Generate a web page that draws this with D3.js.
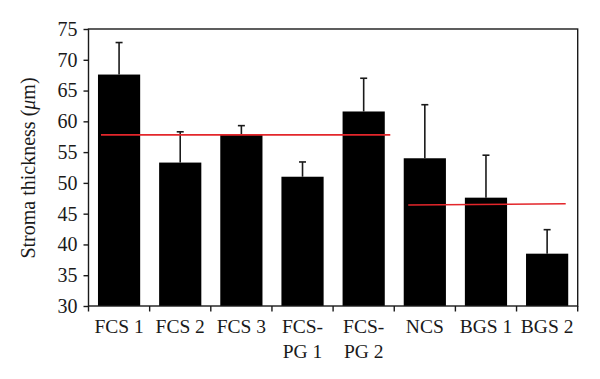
<!DOCTYPE html>
<html>
<head>
<meta charset="utf-8">
<script src="https://cdn.jsdelivr.net/npm/d3@7"></script>
<style>
  html, body { margin: 0; padding: 0; background: #fff; }
  svg { display: block; }
  text { font-family: "Liberation Serif", "Times New Roman", serif; fill: #1a1a1a; }
</style>
</head>
<body>
<script>
// ---- data ----
const categories = ["FCS 1", "FCS 2", "FCS 3", "FCS-\nPG 1", "FCS-\nPG 2", "NCS", "BGS 1", "BGS 2"];
const means = [67.6, 53.3, 57.8, 51.0, 61.6, 54.0, 47.6, 38.5];
const errorTops = [72.8, 58.3, 59.3, 53.4, 67.0, 62.7, 54.5, 42.4];
const yTicks = [30, 35, 40, 45, 50, 55, 60, 65, 70, 75];
const refFrom = ["FCS 1", "NCS"];
const refTo = ["FCS-\nPG 2", "BGS 2"];
const refStart = [57.8, 46.4];
const refEnd = [57.8, 46.6];

// ---- layout ----
const W = 600, H = 379;
const mLeft = 88.5, mRight = 577.7, mTop = 29, mBottom = 306;

const svg = d3.select("body").append("svg").attr("width", W).attr("height", H);

const x = d3.scaleBand().domain(categories).range([mLeft, mRight]).paddingInner(0.31).paddingOuter(0.155);
const y = d3.scaleLinear().domain([30, 75]).range([mBottom, mTop]);
const bw = x.bandwidth();
const step = x.step();

// bars
svg.append("g").selectAll("rect").data(categories).join("rect")
  .attr("x", d => x(d))
  .attr("y", (d, i) => y(means[i]))
  .attr("width", bw)
  .attr("height", (d, i) => y(30) - y(means[i]))
  .attr("fill", "#000");

// error bars
const eg = svg.append("g").attr("stroke", "#1a1a1a").attr("stroke-width", 1.6);
categories.forEach((c, i) => {
  const cx = x(c) + bw / 2;
  eg.append("line").attr("x1", cx).attr("x2", cx).attr("y1", y(means[i])).attr("y2", y(errorTops[i]));
  eg.append("line").attr("x1", cx - 3.5).attr("x2", cx + 3.5).attr("y1", y(errorTops[i])).attr("y2", y(errorTops[i]));
});

// reference lines (red)
const startOff = [3, 4.5];
const endOff = [5.5, -2.5];
refFrom.forEach((f, i) => {
  svg.append("line")
    .attr("x1", x(f) + startOff[i])
    .attr("x2", x(refTo[i]) + bw + endOff[i])
    .attr("y1", y(refStart[i]))
    .attr("y2", y(refEnd[i]))
    .attr("stroke", "#e3262b")
    .attr("stroke-width", 1.6);
});

// frame
svg.append("rect").attr("x", mLeft).attr("y", mTop).attr("width", mRight - mLeft).attr("height", mBottom - mTop)
  .attr("fill", "none").attr("stroke", "#1a1a1a").attr("stroke-width", 1.4);

// y axis
const yAxis = d3.axisLeft(y).tickValues(yTicks).tickSize(5).tickPadding(6).tickFormat(d3.format("d"));
const yg = svg.append("g").attr("transform", `translate(${mLeft},0)`).call(yAxis);
yg.select(".domain").remove();
yg.selectAll(".tick line").attr("stroke", "#1a1a1a").attr("stroke-width", 1.4);
yg.selectAll(".tick text").attr("font-size", 20).attr("font-family", "Liberation Serif").attr("fill", "#1a1a1a");

// x axis ticks at band boundaries
const bounds = d3.range(categories.length + 1).map(i => mLeft + i * step);
svg.append("g").selectAll("line").data(bounds).join("line")
  .attr("x1", d => d).attr("x2", d => d).attr("y1", mBottom).attr("y2", mBottom + 5.5)
  .attr("stroke", "#1a1a1a").attr("stroke-width", 1.4);

// x labels
const xl = svg.append("g");
categories.forEach(c => {
  const t = xl.append("text")
    .attr("x", x(c) + bw / 2)
    .attr("y", 333)
    .attr("text-anchor", "middle")
    .attr("font-size", 19.5);
  c.split("\n").forEach((line, j) => {
    t.append("tspan").attr("x", x(c) + bw / 2).attr("dy", j === 0 ? 0 : 24.6).text(line);
  });
});

// y label
const yl = svg.append("text")
  .attr("transform", `translate(35,168) rotate(-90)`)
  .attr("text-anchor", "middle")
  .attr("font-size", 20);
yl.append("tspan").text("Stroma thickness (");
yl.append("tspan").attr("font-style", "italic").text("μ");
yl.append("tspan").text("m)");
</script>
</body>
</html>
